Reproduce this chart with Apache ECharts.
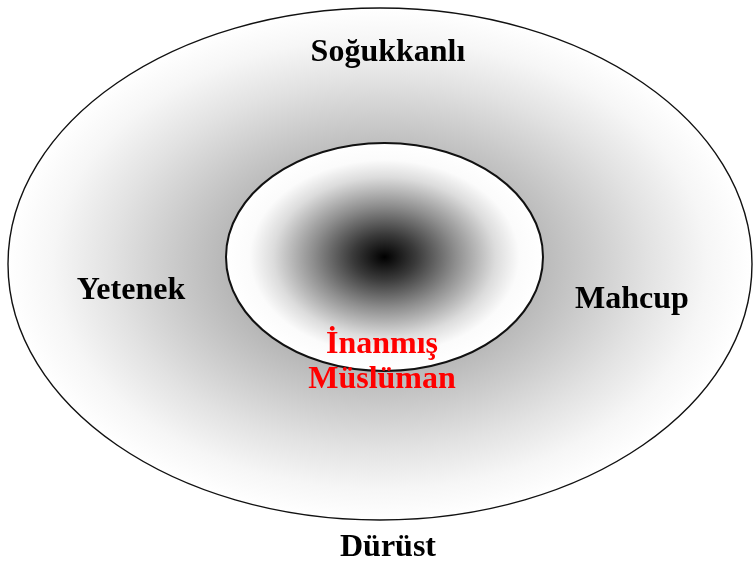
<!DOCTYPE html>
<html>
<head>
<meta charset="utf-8">
<script src="https://cdn.jsdelivr.net/npm/echarts@6/dist/echarts.min.js"></script>
<style>html,body{margin:0;padding:0;background:#fff}#c{width:754px;height:564px}</style>
</head>
<body>
<div id="c"></div>
<script>
// Ellipses (in diagram units = pixels of the 754x564 canvas)
const ellipseNames = ['Dış', 'İç'];
const ellipseCX = [380, 384.5];
const ellipseCY = [264, 257];
const ellipseRX = [372, 158.5];
const ellipseRY = [256, 114];

// Labels
const labelTexts = ['Soğukkanlı', 'Yetenek', 'Mahcup', 'İnanmış', 'Müslüman', 'Dürüst'];
const labelX = [388, 131, 632, 382, 382, 388];
const labelY = [53, 291, 300, 345, 380, 548];
const labelColors = ['#000000', '#000000', '#000000', '#ff0000', '#ff0000', '#000000'];

const gradOuter = [
  [0, '#555555'], [0.42, '#b8b8b8'], [0.55, '#cacaca'], [0.72, '#e2e2e2'], [0.88, '#f6f6f6'], [1, '#ffffff']
];
const gradInner = [
  [0, '#000000'], [0.2, '#3a3a3a'], [0.45, '#8e8e8e'], [0.7, '#dcdcdc'], [0.85, '#fbfbfb'], [1, '#ffffff']
];

const chart = echarts.init(document.getElementById('c'), null, {renderer: 'canvas'});

const ellipseData = ellipseNames.map((n, i) => [ellipseCX[i], ellipseCY[i], ellipseRX[i], ellipseRY[i], i]);
const labelData = labelTexts.map((t, i) => [labelX[i], labelY[i], i]);

chart.setOption({
  animation: false,
  backgroundColor: '#ffffff',
  grid: {left: 0, right: 0, top: 0, bottom: 0},
  xAxis: {type: 'value', min: 0, max: 754, show: false},
  yAxis: {type: 'value', min: 0, max: 564, inverse: true, show: false},
  series: [
    {
      type: 'custom',
      coordinateSystem: 'cartesian2d',
      data: ellipseData,
      clip: false,
      renderItem: function (params, api) {
        const c = api.coord([api.value(0), api.value(1)]);
        const s = api.size([api.value(2), api.value(3)]);
        const idx = api.value(4);
        const rx = s[0], ry = s[1];
        const stops = (idx === 0 ? gradOuter : gradInner).map(d => ({offset: d[0], color: d[1]}));
        return {
          type: 'group',
          children: [
            {
              type: 'circle',
              x: c[0], y: c[1],
              scaleX: rx / ry, scaleY: 1,
              shape: {cx: 0, cy: 0, r: ry},
              style: {
                fill: {type: 'radial', x: 0.5, y: 0.5, r: 0.5, colorStops: stops, global: false}
              }
            },
            {
              type: 'ellipse',
              shape: {cx: c[0], cy: c[1], rx: rx, ry: ry},
              style: {fill: null, stroke: '#111', lineWidth: idx === 0 ? 1.4 : 2}
            }
          ]
        };
      },
      z: 1
    },
    {
      type: 'custom',
      coordinateSystem: 'cartesian2d',
      data: labelData,
      clip: false,
      z: 5,
      renderItem: function (params, api) {
        const c = api.coord([api.value(0), api.value(1)]);
        const i = api.value(2);
        return {
          type: 'text',
          x: c[0], y: c[1],
          style: {
            text: labelTexts[i],
            fill: labelColors[i],
            opacity: 1,
            align: 'center',
            verticalAlign: 'middle',
            fontFamily: '"Liberation Serif", "Times New Roman", serif',
            fontWeight: 'bold',
            fontSize: 32
          }
        };
      }
    }
  ]
});
</script>
</body>
</html>
